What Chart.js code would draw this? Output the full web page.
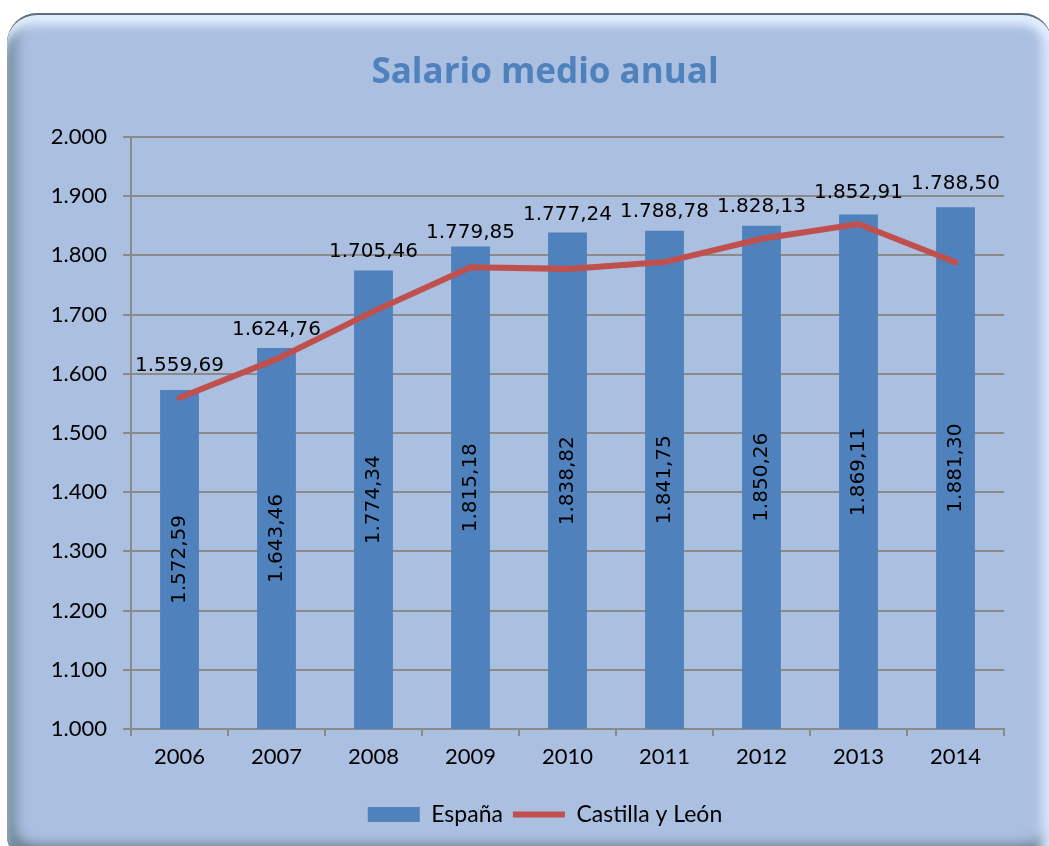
<!DOCTYPE html>
<html>
<head>
<meta charset="utf-8">
<script src="https://cdn.jsdelivr.net/npm/chart.js@4.4.0/dist/chart.umd.min.js"></script>
<style>
  html, body { margin: 0; padding: 0; background: #fff; overflow: hidden; }
  #page { position: relative; width: 1049px; height: 846px; overflow: hidden; }
  #marco {
    position: absolute; left: 7px; top: 13px; width: 1045px; height: 852px;
    box-sizing: border-box; border-radius: 30px; background: #abbfe0;
    border-top: 2px solid #5b6f7c;
    box-shadow:
      inset 0 14px 10px -4px #e2eeff,
      inset 16px 0 12px -6px #7a93aa,
      inset -16px 0 12px -6px #dbe9ff,
      inset 0 -26px 14px -8px #4f626c;
  }
  /* el lienzo sobresale por la derecha para que titulo y leyenda queden centrados en x=545 */
  #lienzo { position: absolute; left: 0; top: 0; width: 1090px; height: 846px; }
</style>
</head>
<body>
<div id="page">
  <div id="marco"></div>
  <div id="lienzo"><canvas id="grafico" width="1090" height="846"></canvas></div>
</div>
<script>
// datos
var anios = ['2006', '2007', '2008', '2009', '2010', '2011', '2012', '2013', '2014'];
var espana = [1572.59, 1643.46, 1774.34, 1815.18, 1838.82, 1841.75, 1850.26, 1869.11, 1881.30];
var castilla = [1559.69, 1624.76, 1705.46, 1779.85, 1777.24, 1788.78, 1828.13, 1852.91, 1788.50];

// separacion de cada etiqueta de la linea sobre su punto (px)
var sepEtiqueta = [32, 29, 60, 35, 54, 50, 32, 31, 78];

function numES(v, dec) {
  var s = v.toFixed(dec).split('.');
  var ent = s[0].replace(/\B(?=(\d{3})+(?!\d))/g, '.');
  return dec ? ent + ',' + s[1] : ent;
}

var etiquetas = {
  id: 'etiquetas',
  afterDatasetsDraw: function (chart) {
    var ctx = chart.ctx;
    var fondo = chart.chartArea.bottom;
    ctx.save();
    ctx.font = '20px "DejaVu Sans"';
    ctx.fillStyle = '#000';
    ctx.textAlign = 'center';
    ctx.textBaseline = 'middle';
    chart.getDatasetMeta(0).data.forEach(function (bar, i) {
      ctx.save();
      ctx.translate(bar.x, (bar.y + fondo) / 2);
      ctx.rotate(-Math.PI / 2);
      ctx.fillText(numES(espana[i], 2), 0, 0);
      ctx.restore();
    });
    chart.getDatasetMeta(1).data.forEach(function (pt, i) {
      ctx.fillText(numES(castilla[i], 2), pt.x, pt.y - sepEtiqueta[i]);
    });
    ctx.restore();
  }
};

new Chart(document.getElementById('grafico'), {
  type: 'bar',
  data: {
    labels: anios,
    datasets: [{
      label: 'España',
      data: espana,
      backgroundColor: '#4f81bd',
      borderWidth: 0,
      barPercentage: 0.4,
      categoryPercentage: 1,
      order: 2,
      pointStyle: 'rect'
    }, {
      label: 'Castilla y León',
      type: 'line',
      data: castilla,
      borderColor: '#c0504d',
      backgroundColor: '#c0504d',
      borderWidth: 6,
      borderCapStyle: 'round',
      pointRadius: 0,
      tension: 0,
      fill: false,
      order: 1,
      pointStyle: 'line'
    }]
  },
  options: {
    responsive: false,
    animation: false,
    layout: { padding: { left: 0, right: 0, top: 0, bottom: 10 } },
    plugins: {
      title: {
        display: true,
        text: 'Salario medio anual',
        color: '#4f81bd',
        font: { family: 'Open Sans', size: 35, weight: 'bold' },
        padding: { top: 52, bottom: 43 }
      },
      legend: {
        position: 'bottom',
        labels: {
          usePointStyle: true,
          pointStyleWidth: 52,
          boxHeight: 15,
          color: '#000',
          padding: 10,
          font: { family: 'Lato', size: 23 },
          sort: function (a, b) { return a.datasetIndex - b.datasetIndex; }
        }
      },
      tooltip: { enabled: false }
    },
    scales: {
      x: {
        grid: { drawOnChartArea: false, color: '#8a8a8a', lineWidth: 2, tickLength: 7 },
        border: { color: '#8a8a8a', width: 2 },
        ticks: { color: '#000', padding: 8, font: { family: 'Lato', size: 22 } },
        afterFit: function (s) { s.height = 64; }
      },
      y: {
        min: 1000,
        max: 2000,
        grid: { color: '#8a8a8a', lineWidth: 2, tickLength: 8 },
        border: { color: '#8a8a8a', width: 2 },
        ticks: {
          stepSize: 100,
          color: '#000',
          padding: 16,
          font: { family: 'Lato', size: 22 },
          callback: function (v) { return numES(v, 0); }
        },
        afterFit: function (s) { s.width = 131; }
      },
      // eje vacio a la derecha: solo reserva el margen derecho del area de trazado
      margenDer: {
        type: 'linear',
        position: 'right',
        min: 1000,
        max: 2000,
        grid: { display: false },
        border: { display: false },
        ticks: { display: false },
        afterFit: function (s) { s.width = 86; }
      }
    }
  },
  plugins: [etiquetas]
});
</script>
</body>
</html>
